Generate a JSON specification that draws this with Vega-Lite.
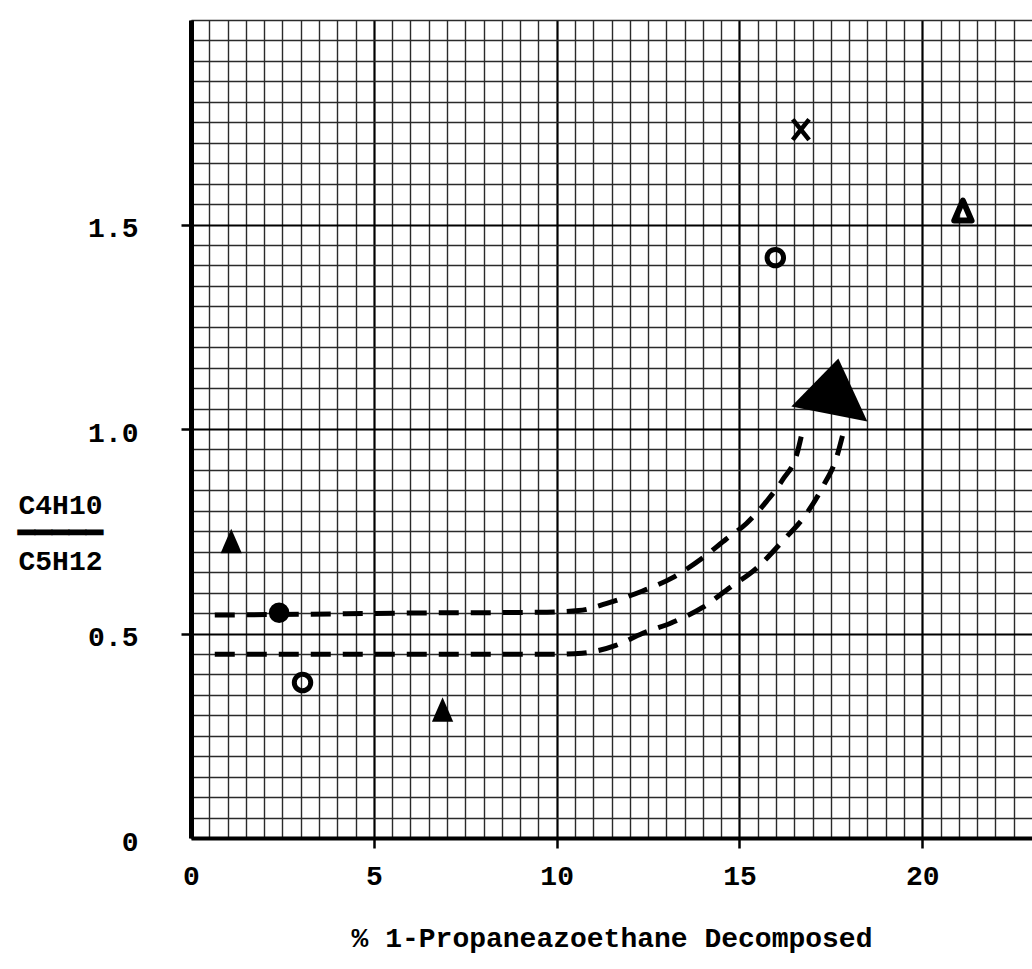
{
  "$schema": "https://vega.github.io/schema/vega-lite/v6.json",
  "width": 841,
  "height": 818,
  "autosize": {"type": "none"},
  "padding": {"left": 191, "top": 20, "right": 0, "bottom": 131},
  "background": "white",
  "config": {"view": {"stroke": null}, "font": "Liberation Mono"},
  "datasets": {
    "points": [
      {"x": 1.1, "y": 0.726, "series": "filled triangle"},
      {"x": 6.88, "y": 0.314, "series": "filled triangle"},
      {"x": 2.41, "y": 0.551, "series": "filled circle"},
      {"x": 3.05, "y": 0.38, "series": "open circle"},
      {"x": 15.98, "y": 1.419, "series": "open circle"},
      {"x": 16.68, "y": 1.732, "series": "cross"},
      {"x": 21.11, "y": 1.534, "series": "open triangle"}
    ],
    "curves": [
      {"curve": "upper", "x": 0.65, "y": 0.545},
      {"curve": "upper", "x": 3, "y": 0.547},
      {"curve": "upper", "x": 6, "y": 0.55},
      {"curve": "upper", "x": 9.5, "y": 0.552},
      {"curve": "upper", "x": 10.6, "y": 0.556},
      {"curve": "upper", "x": 11.35, "y": 0.573},
      {"curve": "upper", "x": 12.35, "y": 0.604},
      {"curve": "upper", "x": 13.16, "y": 0.636},
      {"curve": "upper", "x": 13.98, "y": 0.684},
      {"curve": "upper", "x": 14.64, "y": 0.731},
      {"curve": "upper", "x": 15.19, "y": 0.769},
      {"curve": "upper", "x": 15.74, "y": 0.823},
      {"curve": "upper", "x": 16.18, "y": 0.876},
      {"curve": "upper", "x": 16.57, "y": 0.939},
      {"curve": "upper", "x": 16.73, "y": 0.998},
      {"curve": "lower", "x": 0.65, "y": 0.449},
      {"curve": "lower", "x": 3, "y": 0.449},
      {"curve": "lower", "x": 6, "y": 0.449},
      {"curve": "lower", "x": 9.78, "y": 0.449},
      {"curve": "lower", "x": 10.69, "y": 0.452},
      {"curve": "lower", "x": 11.62, "y": 0.471},
      {"curve": "lower", "x": 12.34, "y": 0.5},
      {"curve": "lower", "x": 13.16, "y": 0.527},
      {"curve": "lower", "x": 13.98, "y": 0.563},
      {"curve": "lower", "x": 14.73, "y": 0.612},
      {"curve": "lower", "x": 15.47, "y": 0.66},
      {"curve": "lower", "x": 16.18, "y": 0.726},
      {"curve": "lower", "x": 16.84, "y": 0.794},
      {"curve": "lower", "x": 17.28, "y": 0.859},
      {"curve": "lower", "x": 17.66, "y": 0.932},
      {"curve": "lower", "x": 17.83, "y": 0.988}
    ],
    "arrowhead": [{"x": 17.54, "y": 1.082}]
  },
  "encoding": {
    "x": {
      "field": "x",
      "type": "quantitative",
      "scale": {"domain": [0, 23], "nice": false, "zero": false},
      "axis": {
        "title": "% 1-Propaneazoethane Decomposed",
        "titleFont": "Liberation Mono",
        "titleFontWeight": "bold",
        "titleFontSize": 28,
        "titleColor": "black",
        "titleY": 100,
        "titleBaseline": "middle",
        "values": [0, 0.5, 1, 1.5, 2, 2.5, 3, 3.5, 4, 4.5, 5, 5.5, 6, 6.5, 7, 7.5, 8, 8.5, 9, 9.5, 10, 10.5, 11, 11.5, 12, 12.5, 13, 13.5, 14, 14.5, 15, 15.5, 16, 16.5, 17, 17.5, 18, 18.5, 19, 19.5, 20, 20.5, 21, 21.5, 22, 22.5],
        "labelExpr": "datum.value % 5 === 0 ? format(datum.value, 'd') : ''",
        "labelFont": "Liberation Mono",
        "labelFontWeight": "bold",
        "labelFontSize": 28,
        "labelColor": "black",
        "labelPadding": 14,
        "labelFlush": false,
        "labelOverlap": false,
        "labelBound": false,
        "tickSize": 10,
        "tickWidth": 2.5,
        "tickColor": "black",
        "tickOpacity": {"condition": {"test": "datum.value % 5 === 0 && datum.value > 0", "value": 1}, "value": 0},
        "domainColor": "black",
        "domainWidth": 4,
        "grid": true,
        "gridOpacity": 1,
        "gridColor": {"condition": {"test": "datum.value % 5 === 0", "value": "black"}, "value": "#2a2a2a"},
        "gridWidth": {"condition": {"test": "datum.value % 5 === 0", "value": 2.2}, "value": 1.4}
      }
    },
    "y": {
      "field": "y",
      "type": "quantitative",
      "scale": {"domain": [0, 2], "nice": false, "zero": false},
      "axis": {
        "title": ["C4H10", "━━━━━", "C5H12"],
        "titleAngle": 0,
        "titleX": -131,
        "titleY": 485,
        "titleAlign": "center",
        "titleBaseline": "middle",
        "titleLineHeight": 28,
        "titleFont": "Liberation Mono",
        "titleFontWeight": "bold",
        "titleFontSize": 28,
        "titleColor": "black",
        "values": [0, 0.05, 0.1, 0.15, 0.2, 0.25, 0.3, 0.35, 0.4, 0.45, 0.5, 0.55, 0.6, 0.65, 0.7, 0.75, 0.8, 0.85, 0.9, 0.95, 1, 1.05, 1.1, 1.15, 1.2, 1.25, 1.3, 1.35, 1.4, 1.45, 1.5, 1.55, 1.6, 1.65, 1.7, 1.75, 1.8, 1.85, 1.9, 1.95, 2],
        "labelExpr": "datum.value === 0 ? '0' : (datum.value % 0.5 === 0 && datum.value < 2) ? format(datum.value, '.1f') : ''",
        "labelFont": "Liberation Mono",
        "labelFontWeight": "bold",
        "labelFontSize": 28,
        "labelColor": "black",
        "labelPadding": 43,
        "labelOffset": 4,
        "labelOverlap": false,
        "labelBound": false,
        "labelFlush": false,
        "tickSize": 10,
        "tickWidth": 2.5,
        "tickColor": "black",
        "tickOpacity": {"condition": {"test": "datum.value % 0.5 === 0 && datum.value > 0 && datum.value < 2", "value": 1}, "value": 0},
        "domainColor": "black",
        "domainWidth": 5,
        "grid": true,
        "gridOpacity": 1,
        "gridColor": {"condition": {"test": "datum.value % 0.5 === 0 && datum.value < 2", "value": "black"}, "value": "#2a2a2a"},
        "gridWidth": {"condition": {"test": "datum.value % 0.5 === 0 && datum.value < 2", "value": 2.2}, "value": 1.4}
      }
    }
  },
  "layer": [
    {
      "data": {"name": "curves"},
      "mark": {"type": "line", "color": "black", "strokeWidth": 5, "strokeDash": [20, 12], "interpolate": "monotone"},
      "encoding": {"detail": {"field": "curve", "type": "nominal"}}
    },
    {
      "data": {"name": "arrowhead"},
      "mark": {"type": "point", "shape": "M0.12,-0.74L0.7,0.52L-0.82,0.22Z", "filled": true, "color": "black", "opacity": 1, "size": 10000, "strokeWidth": 0}
    },
    {
      "data": {"name": "points"},
      "transform": [{"filter": "datum.series === 'filled triangle'"}],
      "mark": {"type": "point", "shape": "M0,-1L0.87,1L-0.87,1Z", "filled": true, "color": "black", "opacity": 1, "size": 600, "strokeWidth": 0}
    },
    {
      "data": {"name": "points"},
      "transform": [{"filter": "datum.series === 'filled circle'"}],
      "mark": {"type": "point", "shape": "circle", "filled": true, "color": "black", "opacity": 1, "size": 420, "strokeWidth": 0}
    },
    {
      "data": {"name": "points"},
      "transform": [{"filter": "datum.series === 'open circle'"}],
      "mark": {"type": "point", "shape": "circle", "filled": false, "color": "black", "opacity": 1, "size": 270, "strokeWidth": 5}
    },
    {
      "data": {"name": "points"},
      "transform": [{"filter": "datum.series === 'cross'"}],
      "mark": {"type": "point", "shape": "M-0.8,-1L0.8,1M0.8,-1L-0.8,1", "filled": false, "color": "black", "opacity": 1, "size": 420, "strokeWidth": 4.5}
    },
    {
      "data": {"name": "points"},
      "transform": [{"filter": "datum.series === 'open triangle'"}],
      "mark": {"type": "point", "shape": "M0,-1L0.87,1L-0.87,1Z", "filled": false, "color": "black", "opacity": 1, "size": 400, "strokeWidth": 6, "strokeJoin": "round"}
    }
  ]
}
